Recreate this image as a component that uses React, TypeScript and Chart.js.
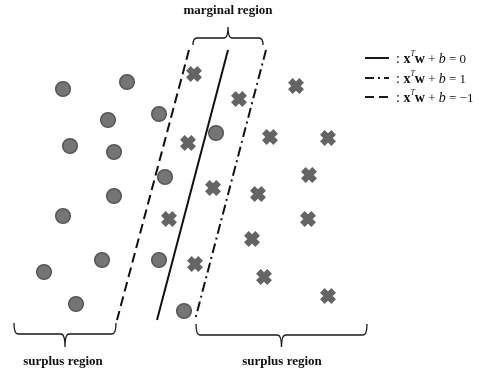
import { useEffect, useRef } from "react";
import { Chart, registerables } from "chart.js";
Chart.register(...registerables);

// class "-1" (circles), pixel-space coordinates
const circleX = [63, 127, 108, 159, 70, 114, 165, 114, 63, 102, 159, 44, 76, 184, 216];
const circleY = [89, 82, 120, 114, 146, 152, 177, 196, 216, 260, 260, 272, 304, 311, 133];
// class "+1" (crosses)
const crossX = [194, 239, 296, 188, 270, 328, 213, 309, 258, 169, 308, 252, 195, 264, 328];
const crossY = [74, 99, 86, 143, 137, 138, 188, 175, 194, 219, 219, 239, 264, 277, 296];
// boundary lines: x at the two end y values
const lineEndY = [50, 320];
const hyperZeroX = [228, 157];
const hyperPlusX = [266, 195];
const hyperMinusX = [189, 117];
// annotations
const regionLabels = ["marginal region", "surplus region", "surplus region"];
const legendRhs = ["0", "1", "\u22121"];

const FONT = '"Liberation Serif", "DejaVu Serif", serif';

function pts(xs: number[], ys: number[]) {
  return xs.map((x, i) => ({ x, y: ys[i] }));
}

function drawBrace(ctx: CanvasRenderingContext2D, x1: number, x2: number, endY: number, barY: number, tipY: number) {
  const mid = (x1 + x2) / 2;
  const r = 4;
  ctx.beginPath();
  ctx.moveTo(x1, endY);
  ctx.quadraticCurveTo(x1, barY, x1 + r, barY);
  ctx.lineTo(mid - r, barY);
  ctx.quadraticCurveTo(mid, barY, mid, tipY);
  ctx.moveTo(mid, tipY);
  ctx.quadraticCurveTo(mid, barY, mid + r, barY);
  ctx.lineTo(x2 - r, barY);
  ctx.quadraticCurveTo(x2, barY, x2, endY);
  ctx.stroke();
}

const annot = {
  id: "annot",
  afterDraw(chart: any) {
    const ctx: CanvasRenderingContext2D = chart.ctx;
    const xs = chart.scales.x;
    const ys = chart.scales.y;
    const X = (v: number) => xs.getPixelForValue(v);
    const Y = (v: number) => ys.getPixelForValue(v);
    ctx.save();
    ctx.strokeStyle = "#1a1a1a";
    ctx.lineWidth = 1.3;
    drawBrace(ctx, X(193), X(263), Y(45), Y(38), Y(27));
    drawBrace(ctx, X(14), X(116), Y(323), Y(334), Y(347));
    drawBrace(ctx, X(196), X(367), Y(324), Y(335), Y(347));

    ctx.fillStyle = "#111";
    ctx.textAlign = "center";
    ctx.textBaseline = "middle";
    ctx.font = `bold 13px ${FONT}`;
    ctx.fillText(regionLabels[0], X(228), Y(11));
    ctx.fillText(regionLabels[1], X(63), Y(362));
    ctx.fillText(regionLabels[2], X(282), Y(362));

    // legend
    const rows = [58, 78, 97];
    const dashes = [[], [9, 4, 2, 4], [9, 5]];
    rows.forEach((ry, i) => {
      ctx.save();
      ctx.lineWidth = 2;
      ctx.setLineDash(dashes[i]);
      ctx.beginPath();
      ctx.moveTo(X(365), Y(ry));
      ctx.lineTo(X(389), Y(ry));
      ctx.stroke();
      ctx.restore();
      ctx.textAlign = "left";
      ctx.textBaseline = "alphabetic";
      let cx = X(396);
      const by = Y(ry) + 5;
      const put = (t: string, font: string, dy = 0) => {
        ctx.font = font;
        ctx.fillText(t, cx, by + dy);
        cx += ctx.measureText(t).width;
      };
      put(": ", `14px ${FONT}`);
      put("x", `bold 14px ${FONT}`);
      put("T", `italic 8px ${FONT}`, -7);
      put("w", `bold 14px ${FONT}`);
      put(" + ", `13px ${FONT}`);
      put("b", `italic 14px ${FONT}`);
      put(" = " + legendRhs[i], `13px ${FONT}`);
    });
    ctx.restore();
  },
};

export default function App() {
  const ref = useRef<HTMLCanvasElement>(null);
  useEffect(() => {
    if (!ref.current) return;
    const lineDs = (xs: number[], dash: number[]) => ({
      type: "line" as const,
      data: pts(xs, lineEndY),
      showLine: true,
      borderColor: "#111",
      borderWidth: 2,
      borderDash: dash,
      pointRadius: 0,
      fill: false,
      order: 2,
    });
    const chart = new Chart(ref.current, {
      type: "scatter",
      data: {
        datasets: [
          lineDs(hyperZeroX, []),
          lineDs(hyperPlusX, [10, 4, 2, 4]),
          lineDs(hyperMinusX, [10, 5]),
          {
            data: pts(circleX, circleY),
            pointStyle: "circle",
            pointRadius: 7.3,
            backgroundColor: "#757575",
            borderColor: "#555555",
            borderWidth: 1.5,
            order: 1,
          } as any,
          {
            data: pts(crossX, crossY),
            pointStyle: "crossRot",
            pointRadius: 8,
            borderColor: "#646464",
            backgroundColor: "#646464",
            borderWidth: 6.5,
            order: 1,
          } as any,
        ],
      },
      options: {
        animation: false,
        responsive: false,
        devicePixelRatio: 1,
        layout: { padding: 0, autoPadding: false },
        scales: {
          x: { type: "linear", min: 0, max: 479, display: false },
          y: { type: "linear", min: 0, max: 373, reverse: true, display: false },
        },
        plugins: { legend: { display: false }, tooltip: { enabled: false } },
      },
      plugins: [annot],
    });
    return () => chart.destroy();
  }, []);
  return (
    <div style={{ position: "absolute", left: 0, top: 0, width: 479, height: 373, background: "#fff" }}>
      <canvas ref={ref} width={479} height={373} style={{ display: "block", width: 479, height: 373 }} />
    </div>
  );
}
